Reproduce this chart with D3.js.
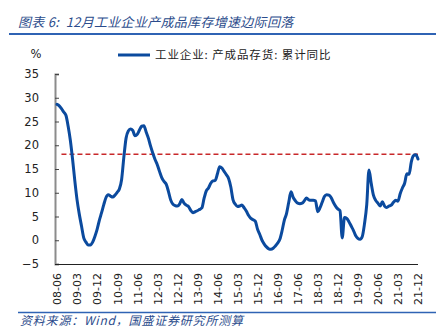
<!DOCTYPE html>
<html><head><meta charset="utf-8">
<script src="https://cdn.jsdelivr.net/npm/d3@7"></script>
<style>
html,body{margin:0;padding:0;background:#fff;}
svg{display:block;}
</style>
</head><body>
<div id="chart"></div>
<script>
const titleText = "图表 6:\u00a0\u00a012月工业企业产成品库存增速边际回落";
const sourceText = "资料来源：Wind，国盛证券研究所测算";
const seriesName = "工业企业: 产成品存货: 累计同比";
const yTicks = [-5, 0, 5, 10, 15, 20, 25, 30, 35];
const refValue = 18.1;

// months 2008-06 .. 2021-12
const months = [];
for (let y = 2008; y <= 2021; y++) {
  for (let m = 1; m <= 12; m++) {
    if (y === 2008 && m < 6) continue;
    months.push(String(y % 100).padStart(2, "0") + "-" + String(m).padStart(2, "0"));
  }
}
const values = [
  28.6, 28.3, 27.7, 27.0, 26.3, 24.0, 21.0, 17.0, 12.5, 8.5,
  5.5, 3.0, 0.5, -0.4, -1.0, -1.0, -0.4, 0.8, 2.3, 4.2,
  5.8, 7.5, 9.0, 9.6, 9.3, 9.1, 9.5, 10.1, 10.8, 12.8,
  17.5, 21.5, 23.0, 23.4, 23.1, 22.0, 22.3, 23.2, 24.0, 24.1,
  22.8, 21.5, 19.8, 18.3, 17.0, 15.9, 14.5, 13.2, 12.4, 11.8,
  10.3, 8.5, 7.6, 7.3, 7.2, 7.6, 8.6, 7.8, 7.4, 7.1,
  6.3, 5.8, 6.0, 6.2, 6.5, 6.8, 8.8, 10.4, 11.0, 12.0,
  12.5, 12.6, 14.0, 15.5, 15.2, 14.5, 13.8, 13.0, 11.2, 8.5,
  7.6, 7.1, 7.2, 7.4, 6.8, 6.1, 5.2, 4.6, 4.3, 4.0,
  2.3, 1.2, 0.0, -0.8, -1.4, -1.8, -1.9, -1.7, -1.2, -0.6,
  0.2, 2.0, 4.2, 5.6, 8.0, 10.2, 9.0, 8.3, 7.8, 7.7,
  7.8, 8.3, 8.9, 8.5, 8.4, 8.4, 8.3, 6.0, 6.8, 8.0,
  9.2, 9.6, 9.5, 9.0, 8.0, 7.2, 6.6, 6.2, 0.5, 4.8,
  4.6, 3.9, 3.0, 2.1, 1.0, 0.4, 0.2, 0.8, 3.5, 7.5,
  14.8, 12.0, 9.5, 8.4, 7.8, 7.2, 8.1, 7.2, 6.9, 7.2,
  7.4, 8.0, 8.4, 8.2, 9.8, 11.0, 12.0, 14.0, 13.9, 16.5,
  17.8, 18.0, 17.1
];
const tickLabels = months.filter((d, i) => i % 9 === 0);

const W = 444, H = 333;
const svg = d3.select("#chart").append("svg").attr("width", W).attr("height", H);

const x = d3.scalePoint().domain(months).range([57, 418]);
const y = d3.scaleLinear().domain([-5, 35]).range([264, 74]);

// title
svg.append("text").attr("x", 18).attr("y", 27)
  .attr("font-family", "'Noto Sans CJK SC', sans-serif")
  .attr("font-size", 13).attr("font-style", "italic")
  .attr("letter-spacing", 0.3)
  .attr("fill", "#2b4c8c").text(titleText);
svg.append("line").attr("x1", 9).attr("x2", 436).attr("y1", 34).attr("y2", 34)
  .attr("stroke", "#2f63b4").attr("stroke-width", 2);

// source
svg.append("line").attr("x1", 18).attr("x2", 436).attr("y1", 312.5).attr("y2", 312.5)
  .attr("stroke", "#2f63b4").attr("stroke-width", 1.5);
svg.append("text").attr("x", 20).attr("y", 325)
  .attr("font-family", "'Noto Sans CJK SC', sans-serif")
  .attr("font-size", 12).attr("font-style", "italic")
  .attr("letter-spacing", 0.8)
  .attr("fill", "#2b4c8c").text(sourceText);

// % label
svg.append("text").attr("x", 36).attr("y", 58).attr("text-anchor", "middle")
  .attr("font-family", "'DejaVu Sans', sans-serif").attr("font-size", 11.5)
  .attr("fill", "#222").text("%");

// y axis
const yAxis = d3.axisRight(y).tickValues(yTicks).tickSize(4).tickFormat(d3.format("d"));
const gy = svg.append("g").attr("transform", "translate(55,0)").call(yAxis);
gy.select(".domain").attr("stroke", "#8c8c8c").attr("stroke-width", 2);
gy.selectAll(".tick line").attr("stroke", "#444");
gy.selectAll(".tick text").attr("x", -16).attr("text-anchor", "end")
  .attr("font-family", "'DejaVu Sans', sans-serif").attr("font-size", 11.5).attr("fill", "#222");

// x axis
const xAxis = d3.axisBottom(x).tickValues(tickLabels).tickSize(0);
const gx = svg.append("g").attr("transform", "translate(0," + y(-5) + ")").call(xAxis);
gx.select(".domain").attr("stroke", "#222").attr("stroke-width", 1).attr("d", "M55,0.5H418");
gx.selectAll(".tick text")
  .attr("transform", "rotate(-90)")
  .attr("x", -9).attr("y", 0).attr("dy", "0.35em")
  .attr("text-anchor", "end")
  .attr("font-family", "'DejaVu Sans', sans-serif").attr("font-size", 11).attr("fill", "#222");

// reference dashed line
svg.append("line")
  .attr("x1", x(months[2])).attr("x2", x(months[months.length - 1]))
  .attr("y1", y(refValue)).attr("y2", y(refValue))
  .attr("stroke", "#c8282a").attr("stroke-width", 1.6).attr("stroke-dasharray", "5,3");

// series
const line = d3.line().x((d, i) => x(months[i])).y(d => y(d)).curve(d3.curveMonotoneX);
svg.append("path").datum(values).attr("d", line)
  .attr("fill", "none").attr("stroke", "#0b4a9e").attr("stroke-width", 3)
  .attr("stroke-linejoin", "round").attr("stroke-linecap", "round");

// legend
svg.append("line").attr("x1", 118).attr("x2", 150).attr("y1", 55).attr("y2", 55)
  .attr("stroke", "#0b4a9e").attr("stroke-width", 3);
svg.append("text").attr("x", 155).attr("y", 59)
  .attr("font-family", "'Noto Sans CJK SC', sans-serif").attr("font-size", 11.5)
  .attr("letter-spacing", 0.9)
  .attr("fill", "#222").text(seriesName);
</script>
</body></html>
